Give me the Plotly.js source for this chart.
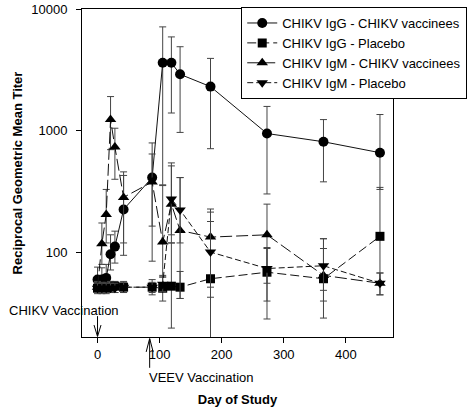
<!DOCTYPE html>
<html>
<head>
<meta charset="utf-8">
<script src="https://cdn.plot.ly/plotly-3.0.1.min.js"></script>
<style>html,body{margin:0;padding:0;background:#fff;}#chart{width:474px;height:407px;}</style>
</head>
<body>
<div id="chart"></div>
<script>
// Day of study for each sampling point
const days = [0, 7, 14, 21, 28, 42, 88, 105, 119, 133, 182, 273, 364, 455];

// CHIKV IgG - CHIKV vaccinees
const iggVacc   = [60, 60, 62, 97, 112, 226, 413, 3620, 3620, 2910, 2305, 950, 813, 661];
const iggVaccLo = [47, 48, 50, 72, 82, 95, 165, 360, 1400, 970, 713, 303, 381, 330];
const iggVaccHi = [76, 75, 80, 140, 150, 460, 795, 7130, 5900, 4900, 3930, 1585, 1236, 1360];

// CHIKV IgG - Placebo
const iggPlac   = [51, 51, 51, 52, 53, 52, 52, 51, 53, 52, 61, 69, 61, 136];
const iggPlacLo = [46, 46, 46, 47, 47, 47, 45, 40, 24, 42, 19, 28.5, 29, 55];
const iggPlacHi = [57, 57, 57, 58, 58, 58, 60, 65, 120, 70, 180, 110, 130, 343];

// CHIKV IgM - CHIKV vaccinees
const igmVacc   = [52, 118, 205, 1236, 735, 284, 380, 122, 250, 152, 134, 140, 65, 56];
const igmVaccLo = [47, 80, 120, 700, 400, 120, 85, 63, 120, 42, 52, 40, 40, 45];
const igmVaccHi = [58, 175, 330, 1910, 1050, 430, 645, 355, 515, 413, 215, 250, 108, 68];

// CHIKV IgM - Placebo
const igmPlac   = [51, 51, 51, 51, 51, 52, 52, 55, 276, 224, 101, 74, 78, 56];
const igmPlacLo = [47, 47, 47, 47, 47, 47, 47, 48, 140, 120, 43, 56, 49, 45];
const igmPlacHi = [56, 56, 56, 56, 56, 57, 57, 63, 545, 413, 228, 108, 130, 68];

const names = ["CHIKV IgG - CHIKV vaccinees", "CHIKV IgG - Placebo",
               "CHIKV IgM - CHIKV vaccinees", "CHIKV IgM - Placebo"];

function errBar(v, lo, hi) {
  return {
    type: 'data', symmetric: false,
    array: v.map((y, i) => hi[i] - y),
    arrayminus: v.map((y, i) => y - lo[i]),
    color: '#444', thickness: 1, width: 3.5
  };
}

function trace(name, y, lo, hi, symbol, size, dash) {
  return {
    type: 'scatter', mode: 'lines+markers', name: name,
    x: days, y: y,
    line: {color: '#111', width: 1, dash: dash},
    marker: {symbol: symbol, size: size, color: '#000'},
    error_y: errBar(y, lo, hi)
  };
}

const data = [
  trace(names[0], iggVacc, iggVaccLo, iggVaccHi, 'circle', 10, 'solid'),
  trace(names[1], iggPlac, iggPlacLo, iggPlacHi, 'square', 9, '9px,4px'),
  trace(names[2], igmVacc, igmVaccLo, igmVaccHi, 'triangle-up', 10, '12px,4px'),
  trace(names[3], igmPlac, igmPlacLo, igmPlacHi, 'triangle-down', 10, '6px,3px')
];

const font = {family: 'Liberation Sans, Arial, Helvetica, sans-serif', size: 13, color: '#000'};

// arrows at vaccination days (day 0 CHIKV, day 84 VEEV)
const chikvDay = 0, veevDay = 84;
const pxPerDay = 330 / 501;
const hw = 3.7 / pxPerDay;
function py(p) { return (337 - p) / 330; }

const layout = {
  width: 474, height: 407,
  margin: {l: 82, r: 62, t: 7, b: 70},
  paper_bgcolor: '#fff', plot_bgcolor: '#fff',
  font: font,
  showlegend: true,
  legend: {
    x: 0.512, y: 1.006, xanchor: 'left', yanchor: 'top',
    bordercolor: '#000', borderwidth: 1, bgcolor: '#fff',
    font: font, tracegroupgap: 0
  },
  xaxis: {
    range: [-25, 476], tickvals: [0, 100, 200, 300, 400],
    ticks: 'outside', ticklen: 5, tickcolor: '#000',
    showline: true, linecolor: '#000', linewidth: 1, mirror: true,
    showgrid: false, zeroline: false,
    tickfont: font,
    title: {text: 'Day of Study', font: {family: font.family, size: 13, color: '#000', weight: 'bold'}, standoff: 36}
  },
  yaxis: {
    type: 'log', range: [1.307, 4],
    tickvals: [100, 1000, 10000], ticktext: ['100', '1000', '10000'],
    ticks: 'outside', ticklen: 5, tickcolor: '#000', ticklabelstandoff: 6,
    showline: true, linecolor: '#000', linewidth: 1, mirror: true,
    showgrid: false, zeroline: false,
    tickfont: font,
    title: {text: 'Reciprocal Geometric Mean Titer', font: {family: font.family, size: 13, color: '#000', weight: 'bold'}, standoff: 5}
  },
  annotations: [
    {text: 'CHIKV Vaccination', xref: 'paper', yref: 'paper', x: -0.2424, y: py(310),
     xanchor: 'left', yanchor: 'middle', showarrow: false, font: font},
    {text: 'VEEV Vaccination', xref: 'paper', yref: 'paper', x: 0.209, y: py(378),
     xanchor: 'left', yanchor: 'middle', showarrow: false, font: font}
  ],
  shapes: [
    {type: 'line', xref: 'x', yref: 'paper', x0: chikvDay, x1: chikvDay, y0: py(316), y1: py(336),
     line: {color: '#000', width: 1}},
    {type: 'path', xref: 'x', yref: 'paper',
     path: `M${chikvDay - hw},${py(325)} L${chikvDay},${py(336.5)} L${chikvDay + hw},${py(325)}`,
     line: {color: '#000', width: 1}},
    {type: 'line', xref: 'x', yref: 'paper', x0: veevDay, x1: veevDay, y0: py(339), y1: py(368),
     line: {color: '#000', width: 1}},
    {type: 'path', xref: 'x', yref: 'paper',
     path: `M${veevDay - hw},${py(352)} L${veevDay},${py(338.5)} L${veevDay + hw},${py(352)}`,
     line: {color: '#000', width: 1}}
  ]
};

Plotly.newPlot('chart', data, layout, {displayModeBar: false, staticPlot: true});
</script>
</body>
</html>
